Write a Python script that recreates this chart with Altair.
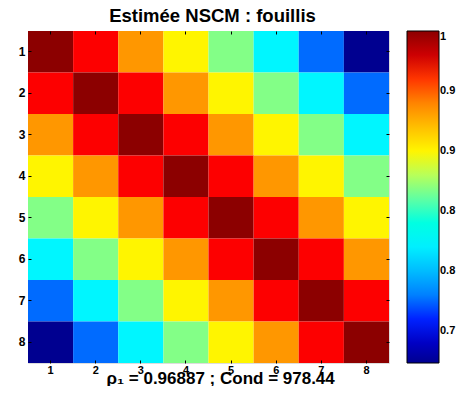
import altair as alt
import pandas as pd

labels = [1, 2, 3, 4, 5, 6, 7, 8]
# value of the matrix on each diagonal offset |i-j| = 0..7 (Toeplitz structure)
diag_values = [1.0, 0.966, 0.934, 0.900, 0.868, 0.823, 0.774, 0.7233]
cbar_ticks = [0.75, 0.8, 0.85, 0.9, 0.95, 1.0]
title_text = "Estimée NSCM : fouillis"
xlabel_text = "ρ₁ = 0.96887 ; Cond = 978.44"
vmin, vmax = 0.7233, 1.0

# jet colormap anchors
jet_pos = [0, 0.125, 0.375, 0.625, 0.875, 1]
jet_colors = ["#000090", "#0000ff", "#00ffff", "#ffff00", "#ff0000", "#8c0000"]
jet_domain = [vmin + p * (vmax - vmin) for p in jet_pos]

rows = []
for i in labels:
    for j in labels:
        rows.append({"row": i, "col": j, "v": diag_values[abs(i - j)]})
df = pd.DataFrame(rows)

FONT = "Liberation Sans"
W, H = 361, 332

color = alt.Color(
    "v:Q",
    scale=alt.Scale(domain=jet_domain, range=jet_colors, clamp=True),
    legend=alt.Legend(
        orient="none", legendX=W + 18, legendY=0, title=None,
        direction="vertical",
        gradientLength=H, gradientThickness=32,
        gradientStrokeColor="black", gradientStrokeWidth=1,
        values=cbar_ticks,
        labelExpr="datum.value >= 1 ? '1' : substring(datum.label, 0, 3)",
        labelBaseline=alt.ExprRef("datum.value >= 1 ? 'bottom' : 'middle'"),
        labelFont=FONT, labelFontWeight="bold", labelFontSize=11,
        labelColor="black", labelOffset=1, labelOverlap=False,
    ),
)

xscale = alt.Scale(paddingInner=0, paddingOuter=0)
yscale = alt.Scale(paddingInner=0, paddingOuter=0)

base = alt.Chart(df).mark_rect().encode(
    x=alt.X("col:O", scale=xscale, axis=alt.Axis(
        orient="bottom", offset=-3, tickSize=3, domain=False, labelAngle=0,
        labelPadding=1, labelFont=FONT, labelFontWeight="bold", labelFontSize=11,
        labelColor="black", tickColor="black", zindex=1,
        title=xlabel_text, titleFont=FONT, titleFontWeight="bold", titleFontSize=17,
        titleColor="black", titleAnchor="start", titleX=78, titleY=23,
        titleBaseline="alphabetic", titleAlign="left",
    )),
    y=alt.Y("row:O", scale=yscale, axis=alt.Axis(
        orient="left", offset=-3, tickSize=3, domain=False,
        labelPadding=3, labelFont=FONT, labelFontWeight="bold", labelFontSize=12,
        labelColor="black", tickColor="black", zindex=1, title=None,
    )),
    color=color,
)

overlay = alt.Chart(df).mark_rect(opacity=0).encode(
    x=alt.X("col:O", scale=xscale, axis=alt.Axis(
        orient="top", offset=-3, tickSize=3, domain=False, labels=False,
        tickColor="black", zindex=1, title=None,
    )),
    y=alt.Y("row:O", scale=yscale, axis=alt.Axis(
        orient="right", offset=-3, tickSize=3, domain=False, labels=False,
        tickColor="black", zindex=1, title=None,
    )),
)

chart = alt.layer(base, overlay).resolve_axis(x="independent", y="independent").properties(
    width=W, height=H,
    title=alt.TitleParams(title_text, font=FONT, fontWeight="bold", fontSize=18.5,
                          color="black", anchor="middle", offset=5, dx=4),
    autosize=alt.AutoSizeParams(type="none"),
    padding={"left": 20, "top": 23, "right": 67, "bottom": 23},
).configure_view(stroke="black", strokeWidth=1).configure(background="white")

chart.save("out.html", embed_options={"renderer": "svg", "actions": False})
